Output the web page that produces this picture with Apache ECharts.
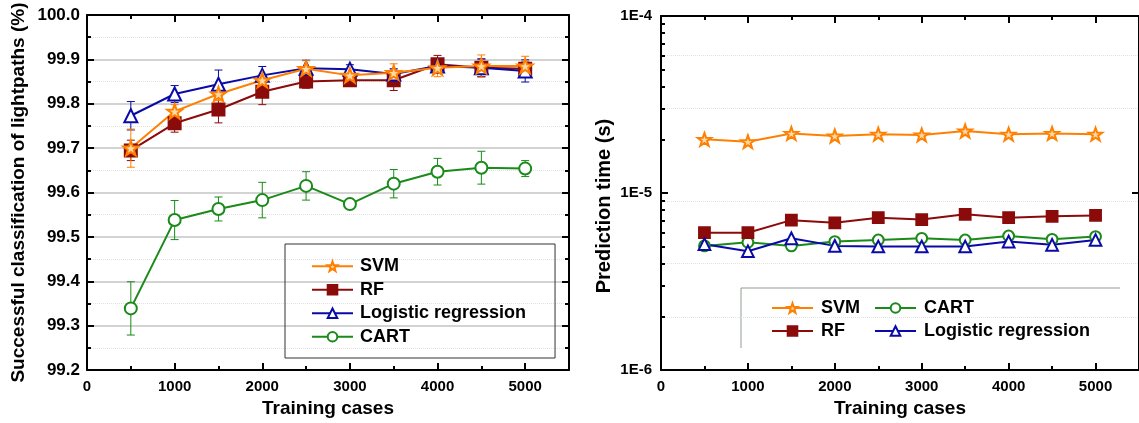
<!DOCTYPE html>
<html>
<head>
<meta charset="utf-8">
<script src="https://cdn.jsdelivr.net/npm/echarts@6/dist/echarts.min.js"></script>
<style>
  html, body { margin: 0; padding: 0; background: #fff; }
  #chart { width: 1139px; height: 423px; }
</style>
</head>
<body>
<div id="chart"></div>
<script>
// training set sizes (x)
const trainingCases = [500, 1000, 1500, 2000, 2500, 3000, 3500, 4000, 4500, 5000]

// classification accuracy (%)
const accSVM  = [99.700, 99.783, 99.822, 99.853, 99.879, 99.864, 99.870, 99.881, 99.885, 99.885]
const accRF   = [99.695, 99.756, 99.787, 99.827, 99.850, 99.853, 99.853, 99.889, 99.881, 99.879]
const accLR   = [99.773, 99.822, 99.844, 99.864, 99.880, 99.878, 99.867, 99.885, 99.881, 99.874]
const accCART = [99.339, 99.538, 99.563, 99.583, 99.615, 99.574, 99.620, 99.647, 99.656, 99.654]

// error bar half widths
const errSVM  = [0.043, 0.015, 0.015, 0.012, 0.018, 0.010, 0.020, 0.020, 0.025, 0.022]
const errRF   = [0.023, 0.020, 0.030, 0.029, 0.015, 0.008, 0.023, 0.020, 0.020, 0.015]
const errLR   = [0.032, 0.019, 0.032, 0.020, 0.018, 0.010, 0.012, 0.015, 0.020, 0.025]
const errCART = [0.060, 0.044, 0.027, 0.040, 0.032, 0.005, 0.032, 0.030, 0.037, 0.018]

// prediction time (s)
const timeSVM  = [2.01e-5, 1.95e-5, 2.17e-5, 2.10e-5, 2.15e-5, 2.13e-5, 2.24e-5, 2.15e-5, 2.17e-5, 2.15e-5]
const timeRF   = [5.97e-6, 5.97e-6, 7.03e-6, 6.79e-6, 7.26e-6, 7.08e-6, 7.58e-6, 7.26e-6, 7.39e-6, 7.48e-6]
const timeCART = [5.03e-6, 5.27e-6, 5.03e-6, 5.32e-6, 5.43e-6, 5.55e-6, 5.43e-6, 5.72e-6, 5.48e-6, 5.68e-6]
const timeLR   = [5.14e-6, 4.69e-6, 5.55e-6, 5.03e-6, 4.99e-6, 4.99e-6, 4.99e-6, 5.32e-6, 5.10e-6, 5.43e-6]

// ticks
const xMajorTicks = [0, 1000, 2000, 3000, 4000, 5000]
const xMinorTicks = [500, 1500, 2500, 3500, 4500]
const logMinorTicks = [2e-6, 3e-6, 4e-6, 5e-6, 6e-6, 7e-6, 8e-6, 9e-6,
                       2e-5, 3e-5, 4e-5, 5e-5, 6e-5, 7e-5, 8e-5, 9e-5]
const logGridTicks = [2e-6, 4e-6, 9e-6, 3e-5, 6e-5]

const FONT = "'Liberation Sans', Arial, sans-serif"
const STAR = 'path://M0,-10L2.35,-3.24L9.51,-3.09L3.8,1.24L5.88,8.09L0,4L-5.88,8.09L-3.8,1.24L-9.51,-3.09L-2.35,-3.24Z'

const styles = {
  'SVM': { color: '#ff8000', fill: '#ffd9a8', symbol: STAR, size: 15 },
  'RF': { color: '#8b0a0a', fill: '#8b0a0a', symbol: 'rect', size: 12 },
  'Logistic regression': { color: '#0a0aa8', fill: '#ffffff', symbol: 'triangle', size: 13 },
  'CART': { color: '#1a8a1a', fill: '#ffffff', symbol: 'circle', size: 12 }
}

function lineSeries(name, values, xi, yi, scale) {
  const s = styles[name]
  return {
    name: name,
    type: 'line',
    xAxisIndex: xi,
    yAxisIndex: yi,
    data: trainingCases.map((x, i) => [x, values[i]]),
    symbol: s.symbol,
    symbolSize: s.size * scale,
    symbolKeepAspect: true,
    showAllSymbol: true,
    lineStyle: { color: s.color, width: 2 },
    itemStyle: { color: s.fill, borderColor: s.color, borderWidth: 2 },
    emphasis: { disabled: true },
    animation: false,
    z: 3
  }
}

function errorSeries(name, values, errs) {
  const c = styles[name].color
  return {
    name: name + ' err',
    type: 'custom',
    xAxisIndex: 0,
    yAxisIndex: 0,
    data: trainingCases.map((x, i) => [x, values[i] - errs[i], values[i] + errs[i]]),
    encode: { x: 0, y: [1, 2] },
    silent: true,
    animation: false,
    z: 2,
    renderItem: (params, api) => {
      const x = api.value(0)
      const lo = api.coord([x, api.value(1)])
      const hi = api.coord([x, api.value(2)])
      const w = 4
      const st = { stroke: c, lineWidth: 1 }
      return {
        type: 'group',
        children: [
          { type: 'line', shape: { x1: lo[0], y1: lo[1], x2: hi[0], y2: hi[1] }, style: st },
          { type: 'line', shape: { x1: lo[0] - w, y1: lo[1], x2: lo[0] + w, y2: lo[1] }, style: st },
          { type: 'line', shape: { x1: hi[0] - w, y1: hi[1], x2: hi[0] + w, y2: hi[1] }, style: st }
        ]
      }
    }
  }
}

const axisLine = { show: true, onZero: false, lineStyle: { color: '#000', width: 2 } }
const labelStyle = { color: '#000', fontWeight: 'bold', fontFamily: FONT }

function xAxes(grid) {
  return [{
    gridIndex: grid, type: 'value', min: 0, max: 5500, interval: 1000, position: 'bottom',
    axisLine: axisLine,
    axisTick: { show: true, inside: true, length: 7, customValues: xMajorTicks, lineStyle: { color: '#000', width: 2 } },
    axisLabel: { ...labelStyle, fontSize: 15, margin: 9, customValues: xMajorTicks, formatter: v => String(v) },
    splitLine: { show: false },
    name: 'Training cases', nameLocation: 'middle', nameGap: 24,
    nameTextStyle: { ...labelStyle, fontSize: 19 }
  }, {
    gridIndex: grid, type: 'value', min: 0, max: 5500, interval: 1000, position: 'bottom',
    axisLine: { show: false },
    axisTick: { show: true, inside: true, length: 4, customValues: xMinorTicks, lineStyle: { color: '#000', width: 2 } },
    axisLabel: { show: false }, splitLine: { show: false }
  }, {
    gridIndex: grid, type: 'value', min: 0, max: 5500, interval: 1000, position: 'top',
    axisLine: axisLine,
    axisTick: { show: true, inside: true, length: 7, customValues: xMajorTicks, lineStyle: { color: '#000', width: 2 } },
    axisLabel: { show: false }, splitLine: { show: false }
  }, {
    gridIndex: grid, type: 'value', min: 0, max: 5500, interval: 1000, position: 'top',
    axisLine: { show: false },
    axisTick: { show: true, inside: true, length: 4, customValues: xMinorTicks, lineStyle: { color: '#000', width: 2 } },
    axisLabel: { show: false }, splitLine: { show: false }
  }]
}

const chart = echarts.init(document.getElementById('chart'), null, { renderer: 'canvas' })

const option = {
  animation: false,
  backgroundColor: '#fff',
  grid: [
    { left: 87, top: 15, width: 482, height: 359 },
    { left: 661, top: 16, width: 483, height: 359 }
  ],
  xAxis: [...xAxes(0), ...xAxes(1)],
  yAxis: [{
    gridIndex: 0, type: 'value', min: 99.2, max: 100.0, interval: 0.1, position: 'left',
    axisLine: axisLine,
    axisTick: { show: true, inside: true, length: 7, lineStyle: { color: '#000', width: 2 } },
    minorTick: { show: true, splitNumber: 2, length: 4, lineStyle: { color: '#000', width: 2 } },
    axisLabel: { ...labelStyle, fontSize: 17, margin: 7, formatter: v => v.toFixed(1) },
    splitLine: { show: true, lineStyle: { color: '#c4c4c4', width: 1.5 } },
    minorSplitLine: { show: true, lineStyle: { color: '#e2e2e2', width: 1, type: 'dotted' } },
    name: 'Successful classification of lightpaths (%)', nameLocation: 'middle', nameGap: 59,
    nameTextStyle: { ...labelStyle, fontSize: 19 }
  }, {
    gridIndex: 0, type: 'value', min: 99.2, max: 100.0, interval: 0.1, position: 'right',
    axisLine: axisLine,
    axisTick: { show: true, inside: true, length: 7, lineStyle: { color: '#000', width: 2 } },
    minorTick: { show: true, splitNumber: 2, length: 4, lineStyle: { color: '#000', width: 2 } },
    axisLabel: { show: false }, splitLine: { show: false }
  }, {
    gridIndex: 1, type: 'log', logBase: 10, min: 1e-6, max: 1e-4, position: 'left',
    axisLine: axisLine,
    axisTick: { show: true, inside: true, length: 7, lineStyle: { color: '#000', width: 2 } },
    axisLabel: { ...labelStyle, fontSize: 15, margin: 9, formatter: v => '1E' + Math.round(Math.log10(v)) },
    splitLine: { show: false },
    name: 'Prediction time (s)', nameLocation: 'middle', nameGap: 47,
    nameTextStyle: { ...labelStyle, fontSize: 20, padding: [0, 26, 0, 0] }
  }, {
    gridIndex: 1, type: 'log', logBase: 10, min: 1e-6, max: 1e-4, position: 'left',
    axisLine: { show: false },
    axisTick: { show: true, inside: true, length: 4, customValues: logMinorTicks, lineStyle: { color: '#000', width: 2 } },
    axisLabel: { show: false }, splitLine: { show: false }
  }, {
    gridIndex: 1, type: 'log', logBase: 10, min: 1e-6, max: 1e-4, position: 'left',
    axisLine: { show: false },
    axisTick: { show: false, customValues: logGridTicks },
    axisLabel: { show: false },
    splitLine: { show: true, lineStyle: { color: '#e2e2e2', width: 1, type: 'dotted' } }
  }, {
    gridIndex: 1, type: 'log', logBase: 10, min: 1e-6, max: 1e-4, position: 'right',
    axisLine: axisLine,
    axisTick: { show: true, inside: true, length: 7, lineStyle: { color: '#000', width: 2 } },
    axisLabel: { show: false }, splitLine: { show: false }
  }],
  legend: [{
    left: 285, top: 244, orient: 'vertical',
    padding: [13, 29, 12, 26],
    borderColor: '#333', borderWidth: 1,
    itemWidth: 41, itemHeight: 12, itemGap: 5,
    textStyle: { ...labelStyle, fontSize: 18, lineHeight: 18.5, padding: [0, 0, 0, 2] },
    data: ['SVM', 'RF', 'Logistic regression', 'CART'],
    selectedMode: false
  }, {
    left: 771, top: 299, orient: 'vertical', padding: 0,
    itemWidth: 41, itemHeight: 12, itemGap: 5,
    textStyle: { ...labelStyle, fontSize: 18, lineHeight: 18, padding: [0, 0, 0, 3] },
    data: ['SVM', 'RF'], selectedMode: false
  }, {
    left: 874, top: 299, orient: 'vertical', padding: 0,
    itemWidth: 41, itemHeight: 12, itemGap: 5,
    textStyle: { ...labelStyle, fontSize: 18, lineHeight: 18, padding: [0, 0, 0, 3] },
    data: ['CART', 'Logistic regression'], selectedMode: false
  }],
  graphic: [{
    type: 'polyline',
    shape: { points: [[741, 348], [741, 288], [1120, 288]] },
    style: { stroke: '#909c90', lineWidth: 1, fill: null },
    silent: true
  }],
  series: [
    errorSeries('CART', accCART, errCART),
    errorSeries('RF', accRF, errRF),
    errorSeries('Logistic regression', accLR, errLR),
    errorSeries('SVM', accSVM, errSVM),
    lineSeries('CART', accCART, 0, 0, 1),
    lineSeries('RF', accRF, 0, 0, 1),
    lineSeries('Logistic regression', accLR, 0, 0, 1),
    lineSeries('SVM', accSVM, 0, 0, 1),
    lineSeries('CART', timeCART, 4, 2, 0.9),
    lineSeries('RF', timeRF, 4, 2, 0.9),
    lineSeries('Logistic regression', timeLR, 4, 2, 0.9),
    lineSeries('SVM', timeSVM, 4, 2, 0.9)
  ]
}

chart.setOption(option)
</script>
</body>
</html>
